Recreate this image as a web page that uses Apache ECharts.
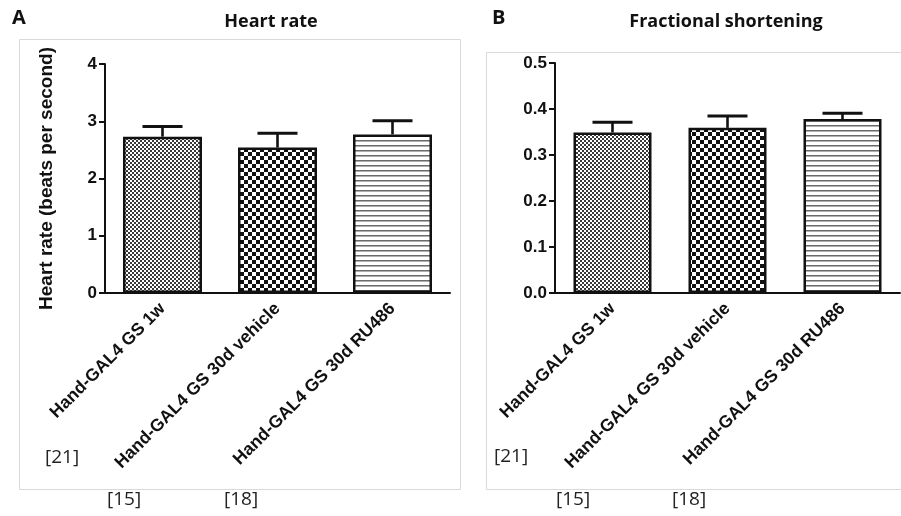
<!DOCTYPE html>
<html>
<head>
<meta charset="utf-8">
<script src="https://cdn.jsdelivr.net/npm/echarts@6/dist/echarts.min.js"></script>
<style>
  html, body { margin: 0; padding: 0; background: #ffffff; }
  #chart { width: 901px; height: 516px; }
</style>
</head>
<body>
<div id="chart"></div>
<script>
// Groups shown in both panels
const groups = ['Hand-GAL4 GS 1w', 'Hand-GAL4 GS 30d vehicle', 'Hand-GAL4 GS 30d RU486'];

// Panel A: heart rate (beats per second), mean and SEM
const heartRateMean = [2.73, 2.54, 2.77];
const heartRateErr = [0.18, 0.25, 0.24];
const heartRateTicks = [0, 1, 2, 3, 4];

// Panel B: fractional shortening, mean and SEM
const fsMean = [0.349, 0.359, 0.378];
const fsErr = [0.022, 0.026, 0.013];
const fsTicks = [0, 0.1, 0.2, 0.3, 0.4, 0.5];

// Reference numbers printed beneath each panel
const refNotes = ['[21]', '[15]', '[18]'];

// ---- fill patterns for the bars ----
function makePattern(w, h, draw) {
  const c = document.createElement('canvas');
  c.width = w; c.height = h;
  const ctx = c.getContext('2d');
  ctx.fillStyle = '#ffffff';
  ctx.fillRect(0, 0, w, h);
  draw(ctx);
  return { image: c, repeat: 'repeat' };
}
const fineCheck = makePattern(4, 4, ctx => {
  ctx.fillStyle = '#3a3a3a';
  ctx.fillRect(0, 0, 2, 2);
  ctx.fillRect(2, 2, 2, 2);
});
const coarseCheck = makePattern(8, 8, ctx => {
  ctx.fillStyle = '#111111';
  ctx.fillRect(0, 0, 4, 4);
  ctx.fillRect(4, 4, 4, 4);
});
const stripes = makePattern(8, 5, ctx => {
  ctx.fillStyle = '#6a6a6a';
  ctx.fillRect(0, 0, 8, 1);
  ctx.fillStyle = '#b0b0b0';
  ctx.fillRect(0, 1, 8, 1);
});
const fills = [fineCheck, coarseCheck, stripes];

const axisFont = 'Liberation Sans, Arial, sans-serif';
const textFont = 'Open Sans, Noto Sans, sans-serif';

function barData(means) {
  return means.map((v, i) => ({
    value: v,
    itemStyle: { color: fills[i], borderColor: '#111', borderWidth: 2.5 }
  }));
}

function errorSeries(means, errs, axisIdx) {
  return {
    type: 'custom',
    xAxisIndex: axisIdx,
    yAxisIndex: axisIdx,
    z: 3,
    data: means.map((m, i) => [i, m, errs[i]]),
    renderItem: function (params, api) {
      const i = api.value(0);
      const m = api.value(1);
      const e = api.value(2);
      const base = api.coord([i, m]);
      const top = api.coord([i, m + e]);
      const half = 20;
      const style = { stroke: '#111', lineWidth: 2.6 };
      return {
        type: 'group',
        children: [
          { type: 'line', shape: { x1: base[0], y1: base[1], x2: top[0], y2: top[1] }, style: style },
          { type: 'line', shape: { x1: top[0] - half, y1: top[1], x2: top[0] + half, y2: top[1] }, style: { stroke: '#111', lineWidth: 3 } }
        ]
      };
    }
  };
}

function xAxisDef(gridIndex) {
  return {
    type: 'category',
    gridIndex: gridIndex,
    data: groups,
    axisLine: { lineStyle: { color: '#111', width: 2 } },
    axisTick: { alignWithLabel: true, length: 6, lineStyle: { color: '#111', width: 2 } },
    axisLabel: {
      rotate: 45, margin: 13, interval: 0,
      color: '#111', fontWeight: 'bold', fontSize: 17.5, fontFamily: axisFont
    },
    splitLine: { show: false }
  };
}

function yAxisDef(gridIndex, ticks, digits, name) {
  return {
    type: 'value',
    gridIndex: gridIndex,
    min: ticks[0],
    max: ticks[ticks.length - 1],
    interval: ticks[1] - ticks[0],
    name: name,
    nameLocation: 'middle',
    nameGap: 49,
    nameTextStyle: { color: '#111', fontWeight: 'bold', fontSize: 19, fontFamily: axisFont },
    axisLine: { show: true, lineStyle: { color: '#111', width: 2 } },
    axisTick: { show: true, length: 6, lineStyle: { color: '#111', width: 2 } },
    axisLabel: {
      margin: 8, color: '#111', fontWeight: 'bold', fontSize: 17, fontFamily: axisFont,
      formatter: v => v.toFixed(digits)
    },
    splitLine: { show: false }
  };
}

const chart = echarts.init(document.getElementById('chart'), null, { renderer: 'canvas' });

const noteStyle = { fill: '#222', fontSize: 19, fontFamily: textFont };

chart.setOption({
  backgroundColor: '#ffffff',
  animation: false,
  grid: [
    { left: 105, right: 451, top: 64, bottom: 223 },
    { left: 555, right: 1, top: 63, bottom: 223 }
  ],
  xAxis: [xAxisDef(0), xAxisDef(1)],
  yAxis: [
    yAxisDef(0, heartRateTicks, 0, 'Heart rate (beats per second)'),
    yAxisDef(1, fsTicks, 1, '')
  ],
  series: [
    { type: 'bar', xAxisIndex: 0, yAxisIndex: 0, barWidth: 79, data: barData(heartRateMean), z: 2 },
    errorSeries(heartRateMean, heartRateErr, 0),
    { type: 'bar', xAxisIndex: 1, yAxisIndex: 1, barWidth: 78, data: barData(fsMean), z: 2 },
    errorSeries(fsMean, fsErr, 1)
  ],
  graphic: [
    // panel frames
    { type: 'rect', shape: { x: 19.5, y: 39.5, width: 441, height: 450 }, style: { fill: null, stroke: '#d9d9d9', lineWidth: 1 }, z: -1 },
    { type: 'rect', shape: { x: 486.5, y: 52.5, width: 420, height: 437 }, style: { fill: null, stroke: '#d9d9d9', lineWidth: 1 }, z: -1 },
    // panel letters and titles
    { type: 'text', left: 12, top: 8, style: { text: 'A', fill: '#111', fontSize: 20, fontWeight: 'bold', fontFamily: textFont } },
    { type: 'text', x: 271, y: 22, style: { text: 'Heart rate', fill: '#111', fontSize: 18, fontWeight: 'bold', fontFamily: textFont, align: 'center', verticalAlign: 'middle' } },
    { type: 'text', left: 492, top: 8, style: { text: 'B', fill: '#111', fontSize: 20, fontWeight: 'bold', fontFamily: textFont } },
    { type: 'text', x: 726, y: 22, style: { text: 'Fractional shortening', fill: '#111', fontSize: 18, fontWeight: 'bold', fontFamily: textFont, align: 'center', verticalAlign: 'middle' } },
    // reference numbers
    { type: 'text', x: 45, y: 458, style: Object.assign({ text: refNotes[0], verticalAlign: 'middle' }, noteStyle) },
    { type: 'text', x: 107, y: 500, style: Object.assign({ text: refNotes[1], verticalAlign: 'middle' }, noteStyle) },
    { type: 'text', x: 224, y: 500, style: Object.assign({ text: refNotes[2], verticalAlign: 'middle' }, noteStyle) },
    { type: 'text', x: 494, y: 457, style: Object.assign({ text: refNotes[0], verticalAlign: 'middle' }, noteStyle) },
    { type: 'text', x: 556, y: 500, style: Object.assign({ text: refNotes[1], verticalAlign: 'middle' }, noteStyle) },
    { type: 'text', x: 672, y: 500, style: Object.assign({ text: refNotes[2], verticalAlign: 'middle' }, noteStyle) }
  ]
});
</script>
</body>
</html>
